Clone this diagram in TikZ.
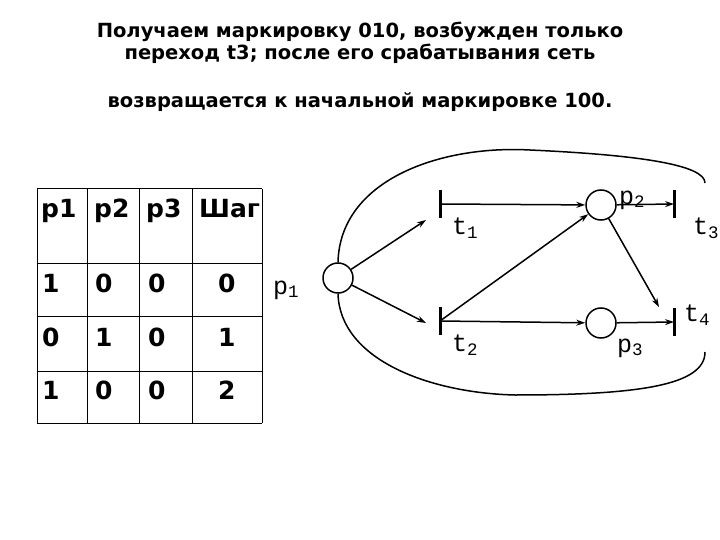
\documentclass[tikz,border=0pt]{standalone}
\usepackage{fontspec}
\setmainfont{DejaVu Sans}
\newfontfamily\monof{Liberation Mono}
\usetikzlibrary{arrows.meta}
\begin{document}
\begin{tikzpicture}[x=1pt,y=-1pt,
  tt/.style={font=\bfseries\fontsize{19.5}{22}\selectfont},
  cell/.style={font=\bfseries\fontsize{25}{27}\selectfont,anchor=base west,inner sep=0pt},
  place/.style={circle,draw,line width=1.5pt,minimum size=30pt,inner sep=0pt},
  trans/.style={line width=3pt},
  arc/.style={line width=1.5pt,-{Stealth[length=9pt,width=6pt]}},
  lab/.style={font=\monof\fontsize{25}{26}\selectfont}]
\useasboundingbox (0,0) rectangle (720,540);
\node[tt] (l1) at (360,32) {Получаем маркировку 010, возбужден только};
\node[tt] (l2) at (360,54) {переход t3; после его срабатывания сеть};
\node[tt] (l3) at (360,102) {возвращается к начальной маркировке 100.};
% table
\foreach \x in {37,87,139,192,262} \draw[line width=1pt] (\x,189) -- (\x,423);
\foreach \y in {189,263,316,371,423} \draw[line width=1pt] (37,\y) -- (262,\y);
\node[cell] (h1) at (41,218) {p1};
\node[cell] (h2) at (94,218) {p2};
\node[cell] (h3) at (146,218) {p3};
\node[cell] (h4) at (199,218) {Шаг};
\node[cell] (a1) at (42,292) {1}; \node[cell] (a2) at (95,292) {0}; \node[cell] (a3) at (148,292) {0}; \node[cell] (a4) at (218,292) {0};
\node[cell] (b1) at (42,346) {0}; \node[cell] (b2) at (95,346) {1}; \node[cell] (b3) at (148,346) {0}; \node[cell] (b4) at (218,346) {1};
\node[cell] (c1) at (42,399) {1}; \node[cell] (c2) at (95,399) {0}; \node[cell] (c3) at (148,399) {0}; \node[cell] (c4) at (218,399) {2};
% net
\node[place] (p1) at (338,278) {};
\node[place] (p2) at (601,205) {};
\node[place] (p3) at (601,323) {};
\coordinate (t1) at (440,204); \draw[trans] (440,190) -- (440,218);
\coordinate (t2) at (440,321); \draw[trans] (440,307) -- (440,335);
\coordinate (t3) at (674,204); \draw[trans] (674,190) -- (674,218);
\coordinate (t4) at (674,322); \draw[trans] (674,308) -- (674,336);
\draw[arc] (p1) -- (426,220);
\draw[arc] (p1) -- (426,323);
\draw[arc] (t1) -- (p2);
\draw[arc] (t2) -- (p2);
\draw[arc] (t2) -- (p3);
\draw[arc] (p2) -- (t3);
\draw[arc] (p2) -- (659,307);
\draw[arc] (p3) -- (t4);
\draw[line width=1.5pt] (p1.north) .. controls (340,180) and (440,145) .. (530,150) .. controls (640,155) and (705,165) .. (705,183);
\draw[line width=1.5pt] (p1.south) .. controls (340,360) and (430,393) .. (515,395) .. controls (640,395) and (705,385) .. (705,352);
\node[lab] (lp1) at (286,290) {p\textsubscript{1}};
\node[lab] (lp2) at (632,200) {p\textsubscript{2}};
\node[lab] (lp3) at (630,348) {p\textsubscript{3}};
\node[lab] (lt1) at (465,228) {t\textsubscript{1}};
\node[lab] (lt2) at (465,345) {t\textsubscript{2}};
\node[lab] (lt3) at (706,228) {t\textsubscript{3}};
\node[lab] (lt4) at (697,315) {t\textsubscript{4}};
\end{tikzpicture}
\end{document}
